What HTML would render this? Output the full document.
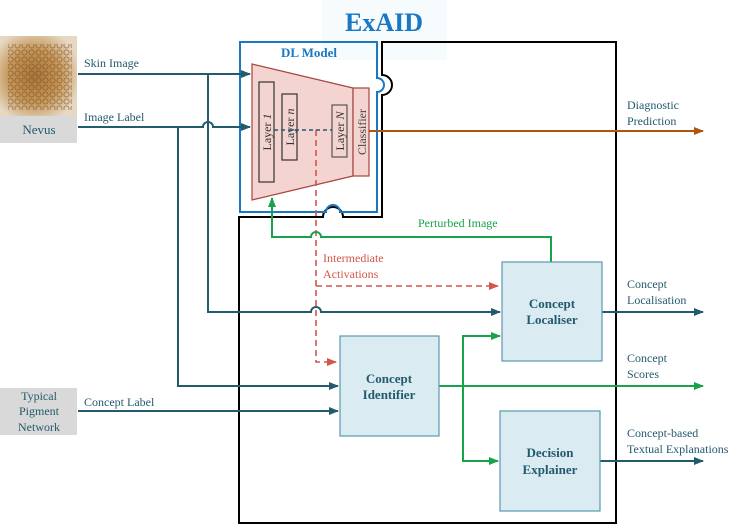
<!DOCTYPE html>
<html><head><style>
html,body{margin:0;padding:0;background:#fff;}
svg{display:block;font-family:"Liberation Serif",serif;}
</style></head><body>
<svg width="747" height="531" viewBox="0 0 747 531" xmlns="http://www.w3.org/2000/svg">
<defs>
<marker id="at" markerWidth="10" markerHeight="8" refX="9" refY="4" orient="auto" markerUnits="userSpaceOnUse"><path d="M0,0 L10,4 L0,8z" fill="#235a6e"/></marker>
<marker id="ag" markerWidth="10" markerHeight="8" refX="9" refY="4" orient="auto" markerUnits="userSpaceOnUse"><path d="M0,0 L10,4 L0,8z" fill="#17a34a"/></marker>
<marker id="ar" markerWidth="10" markerHeight="8" refX="9" refY="4" orient="auto" markerUnits="userSpaceOnUse"><path d="M0,0 L10,4 L0,8z" fill="#d0574a"/></marker>
<marker id="ab" markerWidth="10" markerHeight="8" refX="9" refY="4" orient="auto" markerUnits="userSpaceOnUse"><path d="M0,0 L10,4 L0,8z" fill="#b0550e"/></marker>
<radialGradient id="nv" cx="0.45" cy="0.5" r="0.6"><stop offset="0" stop-color="#a8753a"/><stop offset="0.55" stop-color="#c49658"/><stop offset="1" stop-color="#e6d8c4"/></radialGradient>
<pattern id="net" width="7" height="7" patternUnits="userSpaceOnUse"><circle cx="3.5" cy="3.5" r="2.6" fill="none" stroke="#7a4a1c" stroke-width="0.9" opacity="0.6"/></pattern>
</defs>

<rect x="322" y="0" width="125" height="60" fill="#f6fbfd"/>
<text x="384" y="31" text-anchor="middle" font-size="26" font-weight="bold" fill="#1a78c2">ExAID</text>

<rect x="0" y="36" width="77" height="80" fill="url(#nv)"/>
<rect x="8" y="44" width="64" height="66" fill="url(#net)"/>
<rect x="0" y="116" width="77" height="27" fill="#d9d9d9"/>
<text x="39" y="134" text-anchor="middle" font-size="13" fill="#235a6e">Nevus</text>

<rect x="0" y="388" width="77" height="47" fill="#d9d9d9"/>
<text x="39" y="400" text-anchor="middle" font-size="12" fill="#235a6e">Typical</text>
<text x="39" y="415" text-anchor="middle" font-size="12" fill="#235a6e">Pigment</text>
<text x="39" y="431" text-anchor="middle" font-size="12" fill="#235a6e">Network</text>

<path d="M382,42 L616,42 L616,523 L239,523 L239,217 L323,217 A10,10 0 0 1 343,217 L382,217 L382,95 A10,10 0 0 0 382,75 Z" fill="none" stroke="#000" stroke-width="2"/>
<path d="M240,42 L377,42 L377,78 A7,7 0 0 1 377,92 L377,212 L340,212 A7,7 0 0 0 326,212 L240,212 Z" fill="none" stroke="#1a78c2" stroke-width="2"/>
<text x="309" y="57" text-anchor="middle" font-size="13" font-weight="bold" fill="#1a78c2">DL Model</text>

<path d="M252,64 L353,88 L353,176 L252,200 Z" fill="#f3d4d0" stroke="#a8433a" stroke-width="1.2"/>
<rect x="353" y="88" width="16" height="88" fill="#f3d4d0" stroke="#a8433a" stroke-width="1.2"/>
<rect x="259" y="82" width="15" height="100" fill="none" stroke="#333" stroke-width="1.2"/>
<rect x="282" y="94" width="15" height="66" fill="none" stroke="#333" stroke-width="1.2"/>
<rect x="332" y="105" width="15" height="52" fill="none" stroke="#555" stroke-width="1.2"/>
<text transform="translate(271,132) rotate(-90)" text-anchor="middle" font-size="12" fill="#333">Layer <tspan font-style="italic">1</tspan></text>
<text transform="translate(294,127) rotate(-90)" text-anchor="middle" font-size="12" fill="#333">Layer <tspan font-style="italic">n</tspan></text>
<text transform="translate(344,131) rotate(-90)" text-anchor="middle" font-size="12" fill="#333">Layer <tspan font-style="italic">N</tspan></text>
<text transform="translate(366,132) rotate(-90)" text-anchor="middle" font-size="12" fill="#444">Classifier</text>
<line x1="274" y1="130" x2="332" y2="130" stroke="#235a6e" stroke-width="1.5" stroke-dasharray="4,3"/>

<line x1="369" y1="131" x2="703" y2="131" stroke="#b0550e" stroke-width="2" marker-end="url(#ab)"/>
<text x="627" y="109" font-size="12" fill="#235a6e">Diagnostic</text>
<text x="627" y="125" font-size="12" fill="#235a6e">Prediction</text>

<g fill="none" stroke="#235a6e" stroke-width="2">
<path d="M78,74 L250,74" marker-end="url(#at)"/>
<path d="M78,127 L203,127 A5,5 0 0 1 213,127 L250,127" marker-end="url(#at)"/>
<path d="M208,74 L208,312 L311,312 A5,5 0 0 1 321,312 L500,312" marker-end="url(#at)"/>
<path d="M178,127 L178,386 L338,386" marker-end="url(#at)"/>
<path d="M78,411 L338,411" marker-end="url(#at)"/>
<path d="M602,312 L703,312" marker-end="url(#at)"/>
<path d="M600,461 L703,461" marker-end="url(#at)"/>
</g>
<text x="84" y="67" font-size="12" fill="#235a6e">Skin Image</text>
<text x="84" y="121" font-size="12" fill="#235a6e">Image Label</text>
<text x="84" y="406" font-size="12" fill="#235a6e">Concept Label</text>

<g fill="none" stroke="#d0574a" stroke-width="1.6" stroke-dasharray="6,4">
<path d="M316,130 L316,362 L336,362" marker-end="url(#ar)"/>
<path d="M316,286 L498,286" marker-end="url(#ar)"/>
</g>
<text x="323" y="262" font-size="12" fill="#d0574a">Intermediate</text>
<text x="323" y="278" font-size="12" fill="#d0574a">Activations</text>

<g fill="none" stroke="#17a34a" stroke-width="2">
<path d="M551,262 L551,237 L321,237 A5,5 0 0 0 311,237 L272,237 L272,198" marker-end="url(#ag)"/>
<path d="M439,386 L703,386" marker-end="url(#ag)"/>
<path d="M500,336 L463,336 L463,461 L498,461" marker-end="url(#ag)"/>
<path d="M463,336 L500,336" marker-end="url(#ag)"/>
</g>
<text x="418" y="227" font-size="12" fill="#17a34a">Perturbed Image</text>

<g fill="#daecf2" stroke="#5a9ab0" stroke-width="1.2">
<rect x="340" y="336" width="99" height="100"/>
<rect x="502" y="262" width="100" height="99"/>
<rect x="500" y="411" width="100" height="100"/>
</g>
<g font-size="13" font-weight="bold" fill="#235a6e" text-anchor="middle">
<text x="389" y="383">Concept</text><text x="389" y="399">Identifier</text>
<text x="552" y="308">Concept</text><text x="552" y="324">Localiser</text>
<text x="550" y="457">Decision</text><text x="550" y="474">Explainer</text>
</g>

<g font-size="12" fill="#235a6e">
<text x="627" y="288">Concept</text><text x="627" y="304">Localisation</text>
<text x="627" y="362">Concept</text><text x="627" y="378">Scores</text>
<text x="627" y="437">Concept-based</text><text x="627" y="453">Textual Explanations</text>
</g>
</svg>
</body></html>
